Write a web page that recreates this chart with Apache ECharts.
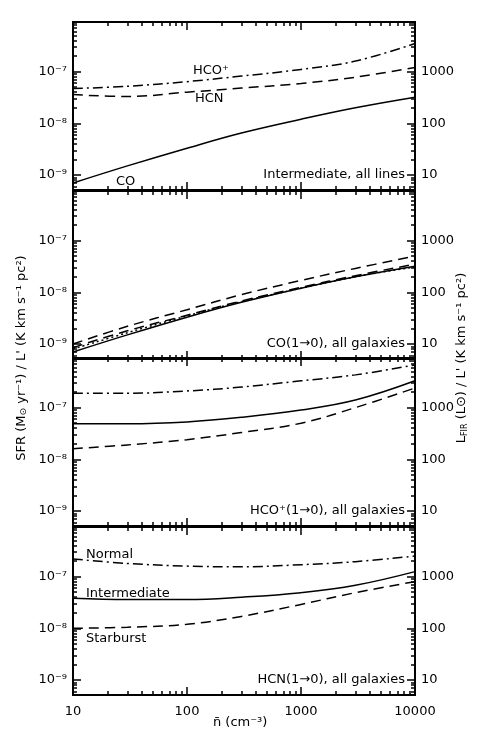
<!DOCTYPE html>
<html>
<head>
<meta charset="utf-8">
<title>sfr panels</title>
<script src="https://cdn.jsdelivr.net/npm/echarts@6/dist/echarts.min.js"></script>
<style>
  body { margin: 0; padding: 0; background: #fff; }
  #main { width: 487px; height: 750px; }
</style>
</head>
<body>
<div id="main"></div>
<script type="text/javascript">
// density grid (cm^-3)
var nGrid = [10, 30, 100, 300, 1000, 3000, 10000];

// panel 1: Intermediate, all lines
var p1CO   = [7e-10, 1.5e-9, 3.3e-9, 6.5e-9, 1.2e-8, 2.0e-8, 3.2e-8];
var p1HCOp = [4.7e-8, 5.2e-8, 6.4e-8, 8.2e-8, 1.1e-7, 1.6e-7, 3.5e-7];
var p1HCN  = [3.6e-8, 3.3e-8, 4.0e-8, 4.8e-8, 5.9e-8, 7.8e-8, 1.2e-7];
// panel 2: CO(1-0), all galaxies
var p2Solid  = [7.0e-10, 1.5e-9, 3.3e-9, 6.4e-9, 1.2e-8, 2.0e-8, 3.2e-8];
var p2Dot    = [8.0e-10, 1.65e-9, 3.5e-9, 6.6e-9, 1.2e-8, 2.0e-8, 3.1e-8];
var p2DashHi = [1.0e-9, 2.2e-9, 4.6e-9, 9.0e-9, 1.7e-8, 2.9e-8, 5.0e-8];
var p2DashLo = [8.5e-10, 1.8e-9, 3.6e-9, 6.8e-9, 1.25e-8, 2.1e-8, 3.5e-8];
// panel 3: HCO+(1-0), all galaxies
var p3DashDot = [1.9e-7, 1.9e-7, 2.1e-7, 2.5e-7, 3.3e-7, 4.3e-7, 6.7e-7];
var p3Solid   = [4.9e-8, 4.9e-8, 5.3e-8, 6.5e-8, 9.0e-8, 1.4e-7, 3.3e-7];
var p3Dash    = [1.6e-8, 1.9e-8, 2.4e-8, 3.3e-8, 5.0e-8, 1.0e-7, 2.4e-7];
// panel 4: HCN(1-0), all galaxies
var p4Normal = [2.2e-7, 1.8e-7, 1.6e-7, 1.55e-7, 1.7e-7, 1.95e-7, 2.5e-7];
var p4Inter  = [3.8e-8, 3.6e-8, 3.6e-8, 4.0e-8, 4.9e-8, 6.8e-8, 1.25e-7];
var p4Star   = [1.0e-8, 1.05e-8, 1.2e-8, 1.7e-8, 2.9e-8, 4.9e-8, 8.0e-8];

var xTicks = [10, 100, 1000, 10000];
var yLeftTicks = [1e-9, 1e-8, 1e-7];
var yLeftLabels = ['10⁻⁹', '10⁻⁸', '10⁻⁷'];
var yRightTicks = [10, 100, 1000];

var panelTexts = ['Intermediate, all lines', 'CO(1→0), all galaxies',
                  'HCO⁺(1→0), all galaxies', 'HCN(1→0), all galaxies'];

var L = Math.log10;
function pts(arr) { return nGrid.map(function (n, i) { return [L(n), L(arr[i])]; }); }
function minorLogs(lo, hi) {
  var out = [];
  for (var d = lo; d < hi; d++) for (var k = 1; k < 10; k++) out.push(d + L(k));
  return out;
}

var tops = [22, 191, 358, 527];
var H = 168;
var yMin = -9.29, yMax = -6.04, off = 10; // right axis = left * 1e10
var font = 'DejaVu Sans';

var grids = [], xAxes = [], yAxes = [], series = [];
var lineDefs = [
  [[p1CO, 'solid'], [p1HCOp, 'dashdot'], [p1HCN, 'dash']],
  [[p2Solid, 'solid'], [p2Dot, 'dot'], [p2DashHi, 'dash'], [p2DashLo, 'dash']],
  [[p3DashDot, 'dashdot'], [p3Solid, 'solid'], [p3Dash, 'dash']],
  [[p4Normal, 'dashdot'], [p4Inter, 'solid'], [p4Star, 'dash']]
];
var styles = { solid: 'solid', dash: [10, 6], dashdot: [10, 4, 2, 4], dot: [2, 3] };

tops.forEach(function (t, g) {
  grids.push({ left: 73, right: 72, top: t, height: H });
  var last = g === 3;
  [['bottom', 8, true], ['bottom', 4, false], ['top', 8, true], ['top', 4, false]].forEach(function (c, j) {
    xAxes.push({
      type: 'value', gridIndex: g, position: c[0], min: 1, max: 4,
      axisLine: { show: true, onZero: false, lineStyle: { color: '#000', width: 2 } },
      axisTick: { show: true, inside: true, length: c[1], lineStyle: { color: '#000', width: 1.5 },
                  customValues: c[2] ? xTicks.map(L) : minorLogs(1, 4) },
      axisLabel: { show: last && j === 0, customValues: xTicks.map(L), color: '#000', fontFamily: font, fontSize: 13,
                   margin: 10, formatter: function (v) { return String(Math.round(Math.pow(10, v))); } },
      splitLine: { show: false }
    });
  });
  [['left', 8, true, 0], ['left', 4, false, 0], ['right', 8, true, off], ['right', 4, false, off]].forEach(function (c, j) {
    var lo = Math.floor(yMin), hi = Math.ceil(yMax);
    yAxes.push({
      type: 'value', gridIndex: g, position: c[0], min: yMin + c[3], max: yMax + c[3],
      axisLine: { show: true, lineStyle: { color: '#000', width: 2 } },
      axisTick: { show: true, inside: true, length: c[1], lineStyle: { color: '#000', width: 1.5 },
                  customValues: c[2] ? yLeftTicks.map(function (v) { return L(v) + c[3]; })
                                     : minorLogs(lo + c[3], hi + c[3]).filter(function (v) { return v >= yMin + c[3] && v <= yMax + c[3]; }) },
      axisLabel: { show: c[2], color: '#000', fontFamily: font, fontSize: 13, margin: 6,
                   customValues: c[3] ? yRightTicks.map(L) : yLeftTicks.map(L),
                   formatter: c[3] ? function (v) { return String(Math.round(Math.pow(10, v))); }
                                   : function (v) { return yLeftLabels[yLeftTicks.map(L).indexOf(v)] || ('10^' + v); } },
      splitLine: { show: false }
    });
  });
  lineDefs[g].forEach(function (d) {
    series.push({
      type: 'line', xAxisIndex: g * 4, yAxisIndex: g * 4, data: pts(d[0]),
      smooth: 0.4, showSymbol: false, silent: true,
      lineStyle: { color: '#000', width: 1.5, type: styles[d[1]] }
    });
  });
});

function txt(x, y, s) {
  return { type: 'text', x: x, y: y, style: { text: s, fill: '#000', font: '13px ' + font } };
}
var graphics = [
  txt(116, 175, 'CO'), txt(193, 64, 'HCO⁺'), txt(195, 92, 'HCN'),
  txt(86, 28 + 520, 'Normal'), txt(86, 67 + 520, 'Intermediate'), txt(86, 112 + 520, 'Starburst'),
  txt(213, 716, 'n̄ (cm⁻³)'),
  { type: 'text', x: 22, y: 358, rotation: Math.PI / 2,
    style: { text: "SFR (M{s|⊙} yr⁻¹) / L' (K km s⁻¹ pc²)", fill: '#000', font: '13px ' + font,
             align: 'center', verticalAlign: 'middle',
             rich: { s: { fontSize: 9, fontFamily: font, fill: '#000', verticalAlign: 'bottom' } } } },
  { type: 'text', x: 462, y: 358, rotation: Math.PI / 2,
    style: { text: "L{s|FIR} (L⊙) / L' (K km s⁻¹ pc²)", fill: '#000', font: '13px ' + font,
             align: 'center', verticalAlign: 'middle',
             rich: { s: { fontSize: 8, fontFamily: font, fill: '#000', verticalAlign: 'bottom' } } } }
];
panelTexts.forEach(function (s, g) {
  graphics.push({ type: 'text', x: 405, y: tops[g] + H - 9,
    style: { text: s, fill: '#000', font: '13px ' + font, align: 'right', verticalAlign: 'bottom' } });
});

var myChart = echarts.init(document.getElementById('main'));
myChart.setOption({
  animation: false,
  grid: grids, xAxis: xAxes, yAxis: yAxes, series: series, graphic: graphics
});
</script>
</body>
</html>
